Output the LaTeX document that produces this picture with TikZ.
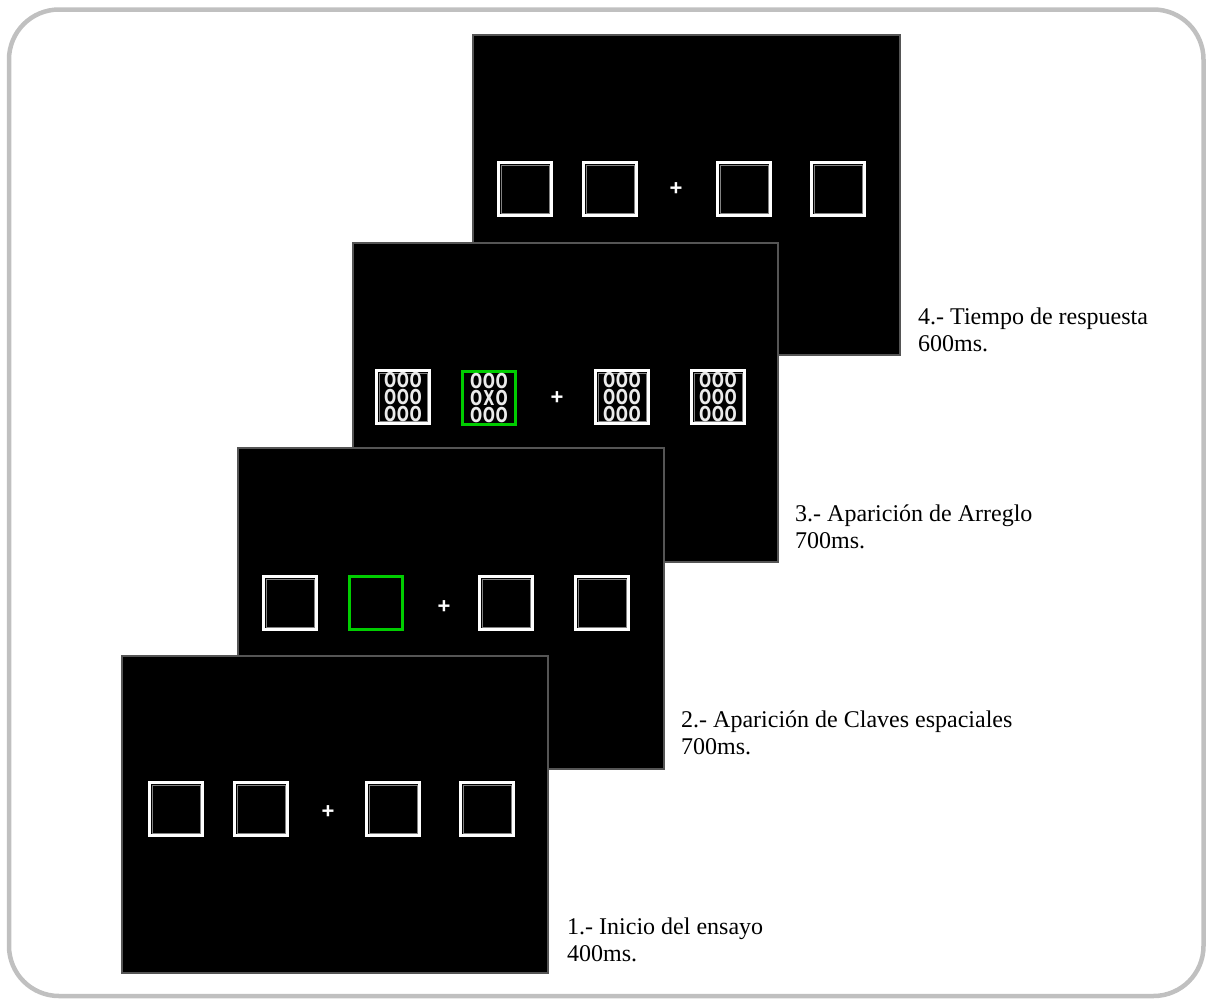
\documentclass[tikz,border=0pt]{standalone}
\usepackage{fontspec}
\setmainfont{Liberation Serif}
\newfontfamily\gridsans{DejaVu Sans}
\newfontfamily\plussans{Liberation Sans}
\definecolor{framegray}{RGB}{192,192,192}
\definecolor{panelgray}{RGB}{85,85,85}
\definecolor{cuegreen}{RGB}{0,205,0}
\definecolor{innergray}{RGB}{130,130,130}
\definecolor{lettergray}{RGB}{235,235,235}
\newcommand\gcell[1]{\makebox[18.3pt][c]{#1}}
\newcommand\rowooo{\gcell{O}\gcell{O}\gcell{O}}
\newcommand\rowoxo{\gcell{O}\gcell{X}\gcell{O}}
\newcommand\gridfont{\gridsans\bfseries\fontsize{20.5}{16.6}\selectfont\lineskiplimit=-20pt\relax}
\begin{document}
\begin{tikzpicture}[x=1pt,y=-1pt,
  frame/.style={draw=framegray,line width=4.5pt,rounded corners=50pt},
  panel/.style={draw=panelgray,fill=black,line width=1.5pt,anchor=north west,inner sep=0pt},
  sq/.style={draw=white,line width=3.5pt,minimum size=53pt,inner sep=0pt,
    path picture={\draw[innergray,line width=0.8pt]
      ([xshift=2.4pt,yshift=-2.4pt]path picture bounding box.north west) rectangle
      ([xshift=-2.4pt,yshift=2.4pt]path picture bounding box.south east);}},
  gsq/.style={draw=cuegreen,line width=3.5pt,minimum size=53pt,inner sep=0pt},
  plusmark/.style={text=white,inner sep=0pt,font=\plussans\bfseries\fontsize{22}{22}\selectfont},
  gridtxt/.style={text=lettergray,inner sep=0pt,align=center,xscale=0.7,font=\gridfont},
  lbl/.style={anchor=base west,inner sep=0pt,font=\fontsize{24}{27}\selectfont}
]
\useasboundingbox (0,0) rectangle (1208,999);
\draw[frame] (9,9.5) rectangle (1203.5,996);

% panel 4 (back)
\node[panel,minimum width=427pt,minimum height=320pt] (p4) at (472,34) {};
\node[sq] (p4s1) at (472+25+28,34+155) {};
\node[sq] (p4s2) at (472+110+28,34+155) {};
\node[plusmark] (p4p) at (472+204,34+155) {+};
\node[sq] (p4s3) at (472+244+28,34+155) {};
\node[sq] (p4s4) at (472+338+28,34+155) {};

% panel 3
\node[panel,minimum width=425pt,minimum height=319pt] (p3) at (352,242) {};
\node[sq] (p3s1) at (352+23+28,242+155) {};
\node[gsq] (p3s2) at (352+109+28,242+156) {};
\node[plusmark] (p3p) at (352+205,242+156) {+};
\node[sq] (p3s3) at (352+242+28,242+155) {};
\node[sq] (p3s4) at (352+338+28,242+155) {};
\node[gridtxt] (p3g1) at (p3s1) {\rowooo\\\rowooo\\\rowooo};
\node[gridtxt] (p3g2) at (p3s2) {\rowooo\\\rowoxo\\\rowooo};
\node[gridtxt] (p3g3) at (p3s3) {\rowooo\\\rowooo\\\rowooo};
\node[gridtxt] (p3g4) at (p3s4) {\rowooo\\\rowooo\\\rowooo};

% panel 2
\node[panel,minimum width=426pt,minimum height=321pt] (p2) at (237,447) {};
\node[sq] (p2s1) at (237+25+28,447+156) {};
\node[gsq] (p2s2) at (237+111+28,447+156) {};
\node[plusmark] (p2p) at (237+207,447+160) {+};
\node[sq] (p2s3) at (237+241+28,447+156) {};
\node[sq] (p2s4) at (237+337+28,447+156) {};

% panel 1 (front)
\node[panel,minimum width=426pt,minimum height=317pt] (p1) at (121,655) {};
\node[sq] (p1s1) at (121+27+28,655+154) {};
\node[sq] (p1s2) at (121+112+28,655+154) {};
\node[plusmark] (p1p) at (121+207,655+157) {+};
\node[sq] (p1s3) at (121+244+28,655+154) {};
\node[sq] (p1s4) at (121+338+28,655+154) {};

% labels
\node[lbl] (l4a) at (918,324) {4.- Tiempo de respuesta};
\node[lbl] (l4b) at (918,351) {600ms.};
\node[lbl] (l3a) at (795,521) {3.- Aparición de Arreglo};
\node[lbl] (l3b) at (795,548) {700ms.};
\node[lbl] (l2a) at (681,727) {2.- Aparición de Claves espaciales};
\node[lbl] (l2b) at (681,754) {700ms.};
\node[lbl] (l1a) at (567,934) {1.- Inicio del ensayo};
\node[lbl] (l1b) at (567,961) {400ms.};
\end{tikzpicture}
\end{document}
